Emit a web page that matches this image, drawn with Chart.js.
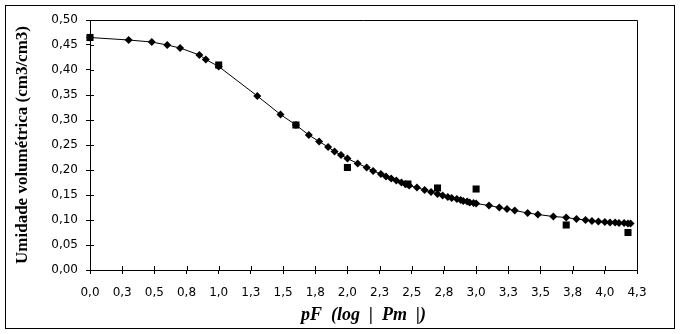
<!DOCTYPE html>
<html>
<head>
<meta charset="utf-8">
<script src="https://cdn.jsdelivr.net/npm/chart.js@4/dist/chart.umd.min.js"></script>
<style>
  body { margin: 0; background: #fff; }
  canvas { display: block; }
</style>
</head>
<body>
<canvas id="myChart" width="681" height="334"></canvas>
<script>
// measured points (squares)
const measPF = [0, 1.0, 1.6, 2.0, 2.47, 2.7, 3.0, 3.7, 4.18];
const measTheta = [0.465, 0.41, 0.29, 0.205, 0.172, 0.164, 0.162, 0.09, 0.075];

// fitted curve (diamonds + line)
const fitPF = [0, 0.30, 0.48, 0.60, 0.70, 0.85, 0.90, 1.00, 1.30, 1.48, 1.60, 1.70,
  1.78, 1.85, 1.90, 1.95, 2.00, 2.08, 2.15, 2.20, 2.26, 2.30, 2.34, 2.38, 2.42,
  2.45, 2.48, 2.54, 2.60, 2.65, 2.70, 2.74, 2.78, 2.81, 2.85, 2.88, 2.90, 2.93,
  2.95, 2.98, 3.00, 3.10, 3.18, 3.24, 3.30, 3.40, 3.48, 3.60, 3.70, 3.78, 3.85,
  3.90, 3.95, 4.00, 4.04, 4.08, 4.11, 4.15, 4.18, 4.20];
const fitTheta = [0.465, 0.460, 0.456, 0.450, 0.444, 0.430, 0.421, 0.407, 0.348,
  0.311, 0.290, 0.270, 0.257, 0.246, 0.237, 0.230, 0.223, 0.213, 0.205, 0.198,
  0.192, 0.187, 0.183, 0.179, 0.175, 0.172, 0.169, 0.165, 0.160, 0.156, 0.152,
  0.149, 0.146, 0.144, 0.142, 0.140, 0.138, 0.137, 0.135, 0.134, 0.133, 0.129,
  0.125, 0.122, 0.119, 0.114, 0.111, 0.107, 0.105, 0.102, 0.100, 0.098, 0.097,
  0.096, 0.095, 0.095, 0.094, 0.094, 0.093, 0.093];

const xTickLabels = ["0,0", "0,3", "0,5", "0,8", "1,0", "1,3", "1,5", "1,8", "2,0",
  "2,3", "2,5", "2,8", "3,0", "3,3", "3,5", "3,8", "4,0", "4,3"];
const yTickLabels = ["0,00", "0,05", "0,10", "0,15", "0,20", "0,25", "0,30",
  "0,35", "0,40", "0,45", "0,50"];

const tickFont = { family: "DejaVu Sans", size: 12 };

// inner halves of the tick marks, plot frame and outer frame
const framePlugin = {
  id: "frames",
  afterDraw(chart) {
    const ctx = chart.ctx;
    const a = chart.chartArea;
    const xs = chart.scales.x;
    const ys = chart.scales.y;
    ctx.save();
    ctx.strokeStyle = "#000";
    ctx.lineWidth = 1;
    ctx.beginPath();
    xs.ticks.forEach((t) => {
      const px = Math.round(xs.getPixelForValue(t.value)) + 0.5;
      ctx.moveTo(px, a.bottom);
      ctx.lineTo(px, a.bottom - 4);
    });
    ys.ticks.forEach((t) => {
      const py = Math.round(ys.getPixelForValue(t.value)) + 0.5;
      ctx.moveTo(a.left, py);
      ctx.lineTo(a.left + 4, py);
    });
    // top and right edge of plot
    ctx.moveTo(a.left, Math.round(a.top) + 0.5);
    ctx.lineTo(Math.round(a.right) + 0.5, Math.round(a.top) + 0.5);
    ctx.lineTo(Math.round(a.right) + 0.5, a.bottom);
    ctx.stroke();
    ctx.strokeRect(5.5, 5.5, 669, 323);
    ctx.restore();
  },
};

const data = {
  datasets: [
    {
      label: "medido",
      data: measPF.map((x, i) => ({ x: x, y: measTheta[i] })),
      pointStyle: "rect",
      pointRadius: 5,
      pointBorderWidth: 0,
      backgroundColor: "#000",
      borderColor: "#000",
      showLine: false,
      clip: false,
    },
    {
      label: "ajustado",
      data: fitPF.map((x, i) => ({ x: x, y: fitTheta[i] })),
      pointStyle: "rectRot",
      pointRadius: 4,
      pointBorderWidth: 0,
      backgroundColor: "#000",
      borderColor: "#000",
      borderWidth: 1,
      showLine: true,
      tension: 0,
      clip: false,
    },
  ],
};

const config = {
  type: "scatter",
  data: data,
  options: {
    responsive: false,
    animation: false,
    devicePixelRatio: 1,
    layout: {
      padding: { top: 20, right: 44, left: 0, bottom: 0 },
    },
    plugins: {
      legend: { display: false },
      tooltip: { enabled: false },
    },
    scales: {
      x: {
        type: "linear",
        min: 0,
        max: 4.25,
        afterFit: (s) => { s.height = 64; },
        ticks: {
          stepSize: 0.25,
          color: "#000",
          font: tickFont,
          padding: 12,
          maxRotation: 0,
          autoSkip: false,
          callback: (v, i) => xTickLabels[i],
        },
        grid: {
          drawOnChartArea: false,
          tickLength: 4,
          color: "#000",
        },
        border: { color: "#000", width: 1 },
        title: {
          display: true,
          text: "pF  (log  |  Pm  |)",
          color: "#000",
          font: { family: "Liberation Serif", size: 18, weight: "bold", style: "italic" },
          padding: { bottom: 8 },
        },
      },
      y: {
        type: "linear",
        min: 0,
        max: 0.5,
        afterFit: (s) => { s.width = 90; },
        ticks: {
          stepSize: 0.05,
          color: "#000",
          font: tickFont,
          padding: 8,
          callback: (v, i) => yTickLabels[i],
        },
        grid: {
          drawOnChartArea: false,
          tickLength: 4,
          color: "#000",
        },
        border: { color: "#000", width: 1 },
        title: {
          display: true,
          text: "Umidade volumétrica (cm3/cm3)",
          color: "#000",
          font: { family: "Liberation Serif", size: 17, weight: "bold" },
          padding: { top: 12 },
        },
      },
    },
  },
  plugins: [framePlugin],
};

const canvas = document.getElementById("myChart");
const ctx = canvas.getContext("2d");
const myChart = new Chart(ctx, config);
</script>
</body>
</html>
